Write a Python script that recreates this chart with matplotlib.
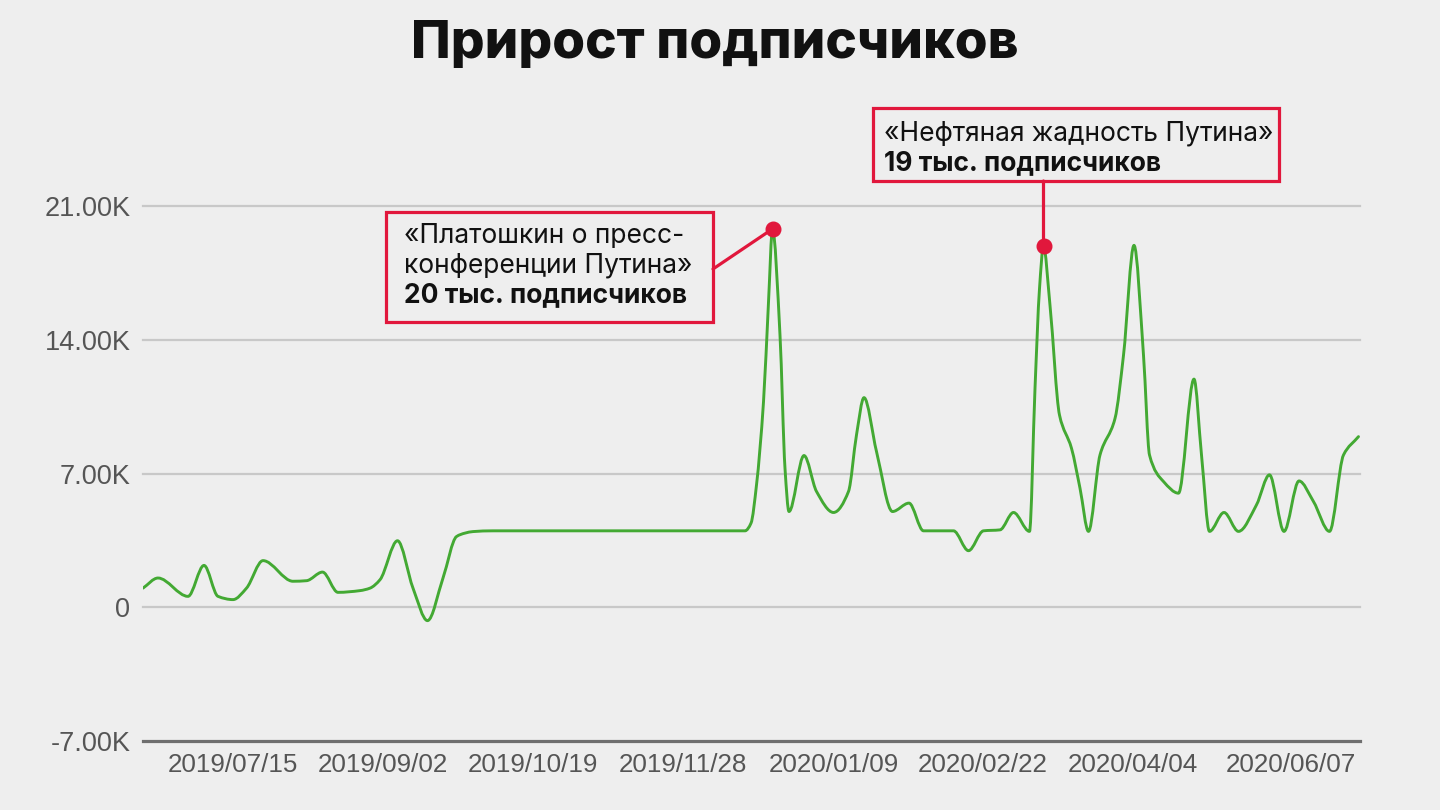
import numpy as np
import matplotlib
matplotlib.use("Agg")
import matplotlib.pyplot as plt
from matplotlib.path import Path
from matplotlib.patches import PathPatch, Rectangle, ConnectionPatch

# ---------------- data ----------------
x_pos = [0, 3, 9, 12.2, 15, 18, 20.7, 24, 30, 32.7, 35.9, 39, 43.4, 45.4, 47.4, 50.9,
         54, 56.9, 60, 62.7, 64.4, 66, 70, 80, 90, 100, 110, 120.4, 121.6, 122.7,
         124.1, 125.1, 125.9, 127.4, 128.4, 129.2, 132.2, 134.7, 138.1, 141.1, 142.7,
         144.2, 146.7, 149.9, 153.2, 156.1, 162.1, 165.1, 168.1, 171.4, 174.1, 177.3,
         178.4, 179.3, 180.1, 181.4, 183.3, 185.7, 187.4, 189.1, 191.4, 194.4, 196.1,
         198.2, 200.1, 201.3, 204.1, 207.1, 210.2, 211.7, 213.3, 216.2, 219.1, 222.7,
         225.3, 228.2, 231.2, 234.1, 237.3, 240.1, 243.1]
subs = [1000, 1530, 570, 2190, 570, 400, 1000, 2440, 1360, 1390, 1840, 780, 870, 1000,
        1440, 3480, 1000, -700, 1530, 3700, 3880, 3960, 4000, 4000, 4000, 4000, 4000,
        4000, 4400, 6400, 10750, 15970, 19800, 14240, 7270, 5010, 7940, 6060, 4960,
        6060, 9020, 10970, 8150, 5010, 5450, 4000, 4000, 2960, 4000, 4050, 4960, 3970,
        11450, 16670, 18900, 15800, 10060, 8320, 6230, 3970, 7970, 9880, 13190, 18940,
        13190, 7970, 6580, 5970, 11940, 7970, 3970, 4960, 3970, 5360, 6930, 3970, 6610,
        5530, 3970, 7970, 8930]

tick_pos = [18, 48, 78, 108, 138.2, 168, 198, 229.6]
tick_labels = ["2019/07/15", "2019/09/02", "2019/10/19", "2019/11/28",
               "2020/01/09", "2020/02/22", "2020/04/04", "2020/06/07"]
y_ticks = [-7000, 0, 7000, 14000, 21000]
y_tick_labels = ["-7.00K", "0", "7.00K", "14.00K", "21.00K"]

title = "Прирост подписчиков"
annot1_lines = ["«Платошкин о пресс-", "конференции Путина»"]
annot1_bold = "20 тыс. подписчиков"
annot2_lines = ["«Нефтяная жадность Путина»"]
annot2_bold = "19 тыс. подписчиков"
annot_x = [125.9, 180.1]

# ---------------- style ----------------
BG = "#eeeeee"
GREEN = "#43a933"
RED = "#e1173c"
W, H = 1440, 810


def fx(px):
    return px / W


def fy(py):
    return 1 - py / H


def pchip_slopes(x, y):
    x = np.asarray(x, float)
    y = np.asarray(y, float)
    h = np.diff(x)
    d = np.diff(y) / h
    m = np.zeros_like(y)
    for k in range(1, len(x) - 1):
        if d[k - 1] * d[k] <= 0:
            m[k] = 0.0
        else:
            w1 = 2 * h[k] + h[k - 1]
            w2 = h[k] + 2 * h[k - 1]
            m[k] = (w1 + w2) / (w1 / d[k - 1] + w2 / d[k])
    m[0] = d[0]
    m[-1] = d[-1]
    return m


def smooth_path(x, y):
    x = np.asarray(x, float)
    y = np.asarray(y, float)
    m = pchip_slopes(x, y)
    verts = [(x[0], y[0])]
    codes = [Path.MOVETO]
    for i in range(len(x) - 1):
        h = x[i + 1] - x[i]
        verts += [(x[i] + h / 3, y[i] + m[i] * h / 3),
                  (x[i + 1] - h / 3, y[i + 1] - m[i + 1] * h / 3),
                  (x[i + 1], y[i + 1])]
        codes += [Path.CURVE4] * 3
    return Path(verts, codes)


fig = plt.figure(figsize=(14.4, 8.1), dpi=100)
fig.patch.set_facecolor(BG)
ax = fig.add_axes([fx(143), fy(741), fx(1360) - fx(143), fy(206) - fy(741)])
ax.set_facecolor(BG)
ax.set_xlim(0, 243.4)
ax.set_ylim(-7000, 21000)

for s in ["top", "right", "left"]:
    ax.spines[s].set_visible(False)
ax.spines["bottom"].set_color("#6f6f6f")
ax.spines["bottom"].set_linewidth(2.3)

for yv in y_ticks[1:]:
    ax.axhline(yv, color="#c8c8c8", lw=1.6, zorder=1, clip_on=False)

ax.set_yticks(y_ticks)
ax.set_yticklabels(y_tick_labels, fontsize=19.5, color="#555555",
                   family=["Liberation Sans", "DejaVu Sans"])
ax.tick_params(axis="y", length=0, pad=9)
ax.set_xticks(tick_pos)
ax.set_xticklabels(tick_labels, fontsize=18.7, color="#555555",
                   family=["Liberation Sans", "DejaVu Sans"])
ax.tick_params(axis="x", length=0, pad=9)

patch = PathPatch(smooth_path(x_pos, subs), facecolor="none", edgecolor=GREEN,
                  lw=2.1, zorder=3, joinstyle="round", capstyle="round")
ax.add_patch(patch)

# annotated peaks
val = dict(zip(x_pos, subs))
peak_y = [val[a] for a in annot_x]
ax.plot(annot_x, peak_y, "o", color=RED, ms=10.5, zorder=6, clip_on=False)

# title
fig.text(fx(715), fy(45), title, ha="center", va="center", fontsize=38.2,
         fontweight=800, family=["Inter", "DejaVu Sans"], color="#111111")

# annotation boxes
box_kw = dict(transform=fig.transFigure, facecolor=BG, edgecolor=RED, lw=2.3, zorder=4)
fig.add_artist(Rectangle((fx(386), fy(322)), fx(713) - fx(386), fy(212) - fy(322), **box_kw))
fig.add_artist(Rectangle((fx(873), fy(181)), fx(1279) - fx(873), fy(108) - fy(181), **box_kw))

tfam = ["Inter", "DejaVu Sans"]
FS = 19
for i, line in enumerate(annot1_lines):
    fig.text(fx(404), fy(243 + 29.5 * i), line, fontsize=FS, family=tfam,
             color="#111111", va="baseline", zorder=7)
fig.text(fx(404), fy(302), annot1_bold, fontsize=FS, family=tfam, fontweight="bold",
         color="#111111", va="baseline", zorder=7)
for i, line in enumerate(annot2_lines):
    fig.text(fx(884), fy(140 + 30 * i), line, fontsize=FS, family=tfam,
             color="#111111", va="baseline", zorder=7)
fig.text(fx(884), fy(170), annot2_bold, fontsize=FS, family=tfam, fontweight="bold",
         color="#111111", va="baseline", zorder=7)

# connectors
c1 = ConnectionPatch(xyA=(fx(713), fy(269)), coordsA="figure fraction",
                     xyB=(annot_x[0], peak_y[0]), coordsB="data", axesB=ax,
                     color=RED, lw=2.3, zorder=5)
fig.add_artist(c1)
# vertical line from box bottom down to the dot
c2 = ConnectionPatch(xyA=(fx(143 + annot_x[1] * 5), fy(181)), coordsA="figure fraction",
                     xyB=(annot_x[1], peak_y[1]), coordsB="data", axesB=ax,
                     color=RED, lw=2.3, zorder=5)
fig.add_artist(c2)

fig.savefig("out.png", dpi=100, facecolor=BG)
